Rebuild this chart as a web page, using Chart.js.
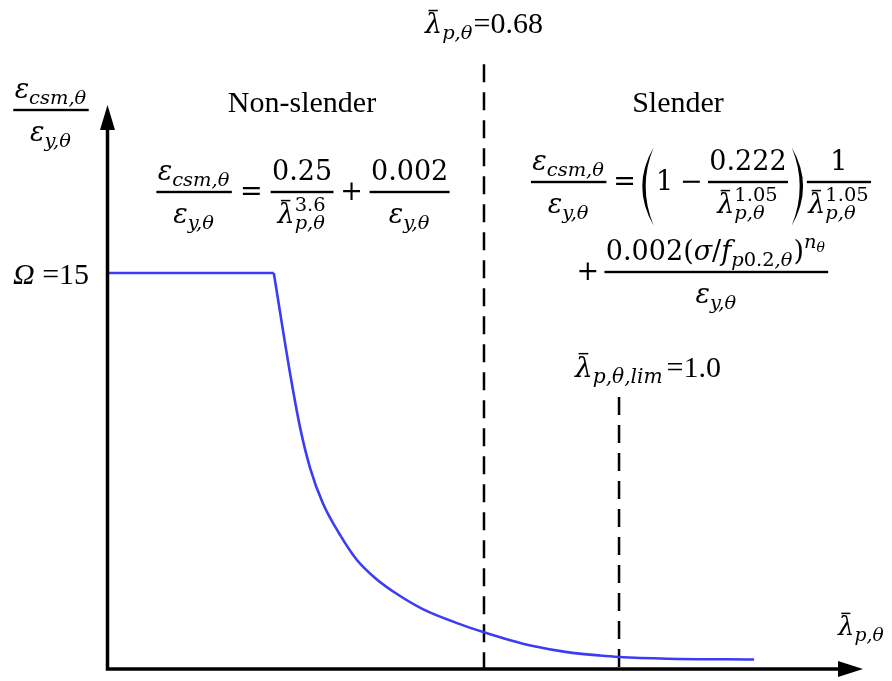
<!DOCTYPE html>
<html>
<head>
<meta charset="utf-8">
<script src="https://cdn.jsdelivr.net/npm/chart.js@4/dist/chart.umd.min.js"></script>
<style>
  html, body { margin: 0; padding: 0; background: #fff; }
  #wrap { width: 892px; height: 681px; }
</style>
</head>
<body>
<div id="wrap"><canvas id="chart" width="892" height="681"></canvas></div>
<script>
// slenderness (x) and strain ratio eps_csm/eps_y (y)
const lambdaP = [-0.212, 0.182, 0.220, 0.244, 0.268, 0.298, 0.339, 0.379, 0.422, 0.474, 0.535,
                 0.623, 0.68, 0.742, 0.796, 0.877, 0.955, 1.0, 1.114, 1.32];
const strainRatio = [15, 15, 11.25, 9.17, 7.61, 6.29, 5.08, 4.13, 3.45, 2.84, 2.27,
                     1.70, 1.39, 1.09, 0.87, 0.64, 0.51, 0.455, 0.39, 0.36];
const plateauEnd = 1;               // last point of the Omega = 15 cap
const limitLambda = [0.68, 1.0];    // dashed lines
const limitTop = [22.9, 10.3];      // how high each dashed line goes
const xRange = [-0.212, 1.578];
const yRange = [0, 21.36];

const blue = '#3c3cf5';
const pts = lambdaP.map((x, i) => ({ x: x, y: strainRatio[i] }));

// ---- tiny math layout, enough for the formulas on this sketch ----
const MF = '"DejaVu Serif", serif';
const TF = '"Liberation Serif", "Times New Roman", serif';
const AX = 0.3, NUP = 0.45, DDN = 1.15, SR = 0.72, SUB = 0.22, SUP = 0.45;
const I = t => ({ k: 'txt', f: 'italic', fam: MF, t: t });
const R = t => ({ k: 'txt', f: '', fam: MF, t: t });
const T = (t, z, f) => ({ k: 'txt', f: f || '', fam: TF, t: t, z: z });
const S = (b, sub, sup) => ({ k: 'scr', b: b, sub: sub, sup: sup });
const F = (n, d) => ({ k: 'frac', n: n, d: d });
const B = b => ({ k: 'bar', b: b });
const P = c => ({ k: 'par', c: c });
const G = w => ({ k: 'gap', w: w });

function box(ctx, n, s) {
  if (Array.isArray(n)) {
    let w = 0, a = 0, d = 0;
    n.forEach(c => { const m = box(ctx, c, s); w += m.w; a = Math.max(a, m.a); d = Math.max(d, m.d); });
    return { w: w, a: a, d: d };
  }
  const z = n.z || s;
  if (n.k === 'txt') {
    ctx.font = n.f + ' ' + z + 'px ' + n.fam;
    return { w: ctx.measureText(n.t).width, a: 0.75 * z, d: 0.22 * z };
  }
  if (n.k === 'gap') return { w: n.w * s, a: 0, d: 0 };
  if (n.k === 'scr') {
    const b = box(ctx, n.b, s), ss = s * SR;
    const lo = n.sub ? box(ctx, n.sub, ss) : { w: 0, a: 0, d: 0 };
    const hi = n.sup ? box(ctx, n.sup, ss) : { w: 0, a: 0, d: 0 };
    return { w: b.w + Math.max(lo.w, hi.w) + 0.04 * s,
             a: Math.max(b.a, SUP * s + hi.a), d: Math.max(b.d, SUB * s + lo.d) };
  }
  if (n.k === 'frac') {
    const nu = box(ctx, n.n, s), de = box(ctx, n.d, s);
    return { w: Math.max(nu.w, de.w) + 0.2 * s, a: (AX + NUP) * s + nu.a, d: (DDN - AX) * s + de.d };
  }
  if (n.k === 'bar') { const b = box(ctx, n.b, s); return { w: b.w, a: b.a + 0.1 * s, d: b.d }; }
  if (n.k === 'par') { const c = box(ctx, n.c, s); return { w: c.w + 1.2 * s, a: c.a + 0.08 * s, d: c.d + 0.08 * s }; }
}

function paren(ctx, xEnd, xMid, top, bot, th) {
  const mid = (top + bot) / 2;
  const c1 = 2 * xMid - xEnd, c2 = c1 + 2 * th * Math.sign(xEnd - xMid);
  ctx.beginPath();
  ctx.moveTo(xEnd, top);
  ctx.quadraticCurveTo(c1, mid, xEnd, bot);
  ctx.quadraticCurveTo(c2, mid, xEnd, top);
  ctx.fill();
}

function draw(ctx, n, x, y, s) {
  if (Array.isArray(n)) {
    let w = 0;
    n.forEach(c => { w += draw(ctx, c, x + w, y, s); });
    return w;
  }
  const m = box(ctx, n, s);
  if (n.k === 'txt') {
    ctx.font = n.f + ' ' + (n.z || s) + 'px ' + n.fam;
    ctx.fillText(n.t, x, y);
  } else if (n.k === 'scr') {
    const bw = draw(ctx, n.b, x, y, s);
    if (n.sub) draw(ctx, n.sub, x + bw, y + SUB * s, s * SR);
    if (n.sup) draw(ctx, n.sup, x + bw, y - SUP * s, s * SR);
  } else if (n.k === 'frac') {
    const nu = box(ctx, n.n, s), de = box(ctx, n.d, s), barY = y - AX * s;
    ctx.fillRect(x + 0.05 * s, barY - 1.2, m.w - 0.1 * s, 2.4);
    draw(ctx, n.n, x + (m.w - nu.w) / 2, barY - NUP * s, s);
    draw(ctx, n.d, x + (m.w - de.w) / 2, barY + DDN * s, s);
  } else if (n.k === 'bar') {
    const bw = draw(ctx, n.b, x, y, s);
    ctx.fillRect(x + 0.2 * bw, y - 0.86 * s, 0.55 * bw, 1.5);
  } else if (n.k === 'par') {
    const c = box(ctx, n.c, s), top = y - c.a - 0.08 * s, bot = y + c.d + 0.08 * s, pw = 0.6 * s;
    paren(ctx, x + 0.85 * pw, x + 0.15 * pw, top, bot, 3.4);
    draw(ctx, n.c, x + pw, y, s);
    const rx = x + pw + c.w;
    paren(ctx, rx + 0.15 * pw, rx + 0.85 * pw, top, bot, 3.4);
  }
  return m.w;
}

function put(ctx, n, x, y, s, center) {
  const w = box(ctx, n, s).w;
  draw(ctx, n, center ? x - w / 2 : x, y, s);
}

const epsCsm = S([I('ε')], [I('csm,θ')]);
const epsY = S([I('ε')], [I('y,θ')]);
const lamP = S([B([I('λ')])], [I('p,θ')]);
const lam105 = S([B([I('λ')])], [I('p,θ')], [R('1.05')]);

const eqNonSlender = [F([epsCsm], [epsY]), G(0.25), R('='), G(0.25),
  F([R('0.25')], [S([B([I('λ')])], [I('p,θ')], [R('3.6')])]), G(0.2), R('+'), G(0.2),
  F([R('0.002')], [epsY])];
const eqSlender1 = [F([epsCsm], [epsY]), G(0.2), R('='), G(0.15),
  P([R('1'), G(0.25), R('−'), G(0.15), F([R('0.222')], [lam105])]), F([R('1')], [lam105])];
const eqSlender2 = [R('+'), G(0.15),
  F([R('0.002('), I('σ'), R('/'), S([I('f')], [I('p'), R('0.2'), I(',θ')]),
     S([R(')')], null, [S([I('n')], [I('θ')])])], [epsY])];

const labelPlugin = {
  id: 'sketchText',
  afterDraw(chart) {
    const ctx = chart.ctx, xs = chart.scales.x;
    const fs = 27;
    ctx.save();
    ctx.fillStyle = '#000';
    ctx.textBaseline = 'alphabetic';
    put(ctx, [F([epsCsm], [epsY])], 51, 110 + AX * fs, fs, true);
    put(ctx, [T('Non-slender', 30)], 302, 112, 30, true);
    put(ctx, [T('Slender', 30)], 678, 112, 30, true);
    put(ctx, [lamP, T('=0.68', 30)], xs.getPixelForValue(limitLambda[0]), 33, 27, true);
    put(ctx, [S([B([I('λ')])], [I('p,θ,lim')]), G(0.1), T('=1.0', 30)], 575, 377, 28, false);
    put(ctx, [T('Ω', 30, 'italic'), T(' =15', 30)], 13, 284, 30, false);
    put(ctx, [lamP], 838, 635, 26, false);
    put(ctx, eqNonSlender, 303, 192 + AX * fs, fs, true);
    put(ctx, eqSlender1, 701, 182 + AX * fs, fs, true);
    put(ctx, eqSlender2, 703, 272 + AX * fs, fs, true);
    ctx.restore();
  }
};

const arrowAxes = {
  id: 'arrowAxes',
  afterDatasetsDraw(chart) {
    const ctx = chart.ctx, a = chart.chartArea;
    ctx.save();
    ctx.strokeStyle = '#000';
    ctx.fillStyle = '#000';
    ctx.lineWidth = 3.5;
    ctx.lineJoin = 'miter';
    ctx.beginPath();
    ctx.moveTo(a.left, a.top + 20);
    ctx.lineTo(a.left, a.bottom);
    ctx.lineTo(a.right - 20, a.bottom);
    ctx.stroke();
    ctx.beginPath();
    ctx.moveTo(a.left, a.top);
    ctx.lineTo(a.left - 7.5, a.top + 25);
    ctx.lineTo(a.left + 7.5, a.top + 25);
    ctx.closePath();
    ctx.fill();
    ctx.beginPath();
    ctx.moveTo(a.right, a.bottom);
    ctx.lineTo(a.right - 25, a.bottom - 8);
    ctx.lineTo(a.right - 25, a.bottom + 8);
    ctx.closePath();
    ctx.fill();
    ctx.restore();
  }
};

const datasets = [
  { data: pts.slice(0, plateauEnd + 1), tension: 0 },
  { data: pts.slice(plateauEnd), cubicInterpolationMode: 'monotone' }
].map(d => Object.assign({ showLine: true, borderColor: blue, borderWidth: 2.6, pointRadius: 0 }, d));

limitLambda.forEach((x, i) => {
  datasets.push({
    data: [{ x: x, y: limitTop[i] }, { x: x, y: 0 }],
    showLine: true, borderColor: '#000', borderWidth: 2.5, borderDash: [18, 10],
    pointRadius: 0, clip: false
  });
});

new Chart(document.getElementById('chart'), {
  type: 'scatter',
  data: { datasets: datasets },
  options: {
    responsive: false,
    animation: false,
    layout: { padding: { left: 107.5, right: 29, top: 105, bottom: 12 } },
    plugins: { legend: { display: false }, tooltip: { enabled: false } },
    scales: {
      x: { type: 'linear', min: xRange[0], max: xRange[1], display: false },
      y: { type: 'linear', min: yRange[0], max: yRange[1], display: false }
    }
  },
  plugins: [arrowAxes, labelPlugin]
});
</script>
</body>
</html>
